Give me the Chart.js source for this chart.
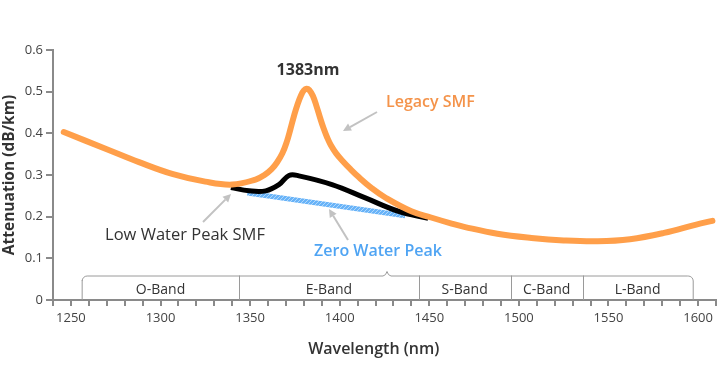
<!DOCTYPE html>
<html><head><meta charset="utf-8">
<script src="https://cdn.jsdelivr.net/npm/chart.js@4/dist/chart.umd.min.js"></script>
<style>html,body{margin:0;padding:0;background:#fff}#wrap{width:720px;height:380px}</style>
</head><body><div id="wrap"><canvas id="c" width="720" height="380"></canvas></div>
<script>
// ---- data ----
const legacyNm  = [1246, 1270, 1288, 1307, 1325, 1340, 1353, 1358, 1362, 1365, 1368, 1370.5, 1372.5, 1374.5, 1376.5, 1378.5, 1380, 1381.5, 1383, 1385, 1387, 1389, 1391, 1393, 1395, 1398, 1402, 1406, 1410.6, 1418, 1425.4, 1440, 1451, 1462, 1470, 1488, 1507, 1525, 1544, 1562, 1581, 1599, 1608];
const legacyAtt = [0.403, 0.362, 0.331, 0.302, 0.284, 0.277, 0.289, 0.300, 0.314, 0.330, 0.352, 0.380, 0.410, 0.442, 0.470, 0.492, 0.503, 0.507, 0.504, 0.490, 0.466, 0.438, 0.412, 0.390, 0.372, 0.352, 0.332, 0.314, 0.295, 0.268, 0.246, 0.213, 0.198, 0.184, 0.175, 0.159, 0.149, 0.143, 0.141, 0.146, 0.161, 0.181, 0.19];
const lowWpNm   = [1339.3, 1349.4, 1358.7, 1366.1, 1371.7, 1377.2, 1395.7, 1414.3, 1432.8, 1449.4];
const lowWpAtt  = [0.270, 0.262, 0.262, 0.277, 0.299, 0.298, 0.277, 0.245, 0.213, 0.196];
const zeroWpNm  = [1348.5, 1436.5];
const zeroWpAtt = [0.257, 0.202];
const bandNames = ['O-Band', 'E-Band', 'S-Band', 'C-Band', 'L-Band'];
const bandEdges = [1256, 1344, 1444, 1495.5, 1535.5, 1597];
const xLabelStep = 50;
const peakLabel = '1383nm';

const pts = (xs, ys) => xs.map((x, i) => ({x, y: ys[i]}));

// striped pattern for zero water peak line
function stripePattern() {
  const p = document.createElement('canvas');
  p.width = 4; p.height = 4;
  const g = p.getContext('2d');
  g.fillStyle = '#68b3f8'; g.fillRect(0, 0, 4, 4);
  g.strokeStyle = '#b0d8fc'; g.lineWidth = 1;
  g.beginPath(); g.moveTo(0, 4); g.lineTo(4, 0); g.stroke();
  return g.createPattern(p, 'repeat');
}

function arrow(ctx, x1, y1, x2, y2) {
  const a = Math.atan2(y2 - y1, x2 - x1), L = 8, W = 4;
  const bx = x2 - L * Math.cos(a), by = y2 - L * Math.sin(a);
  ctx.beginPath(); ctx.moveTo(x1, y1); ctx.lineTo(bx, by); ctx.stroke();
  ctx.beginPath();
  ctx.moveTo(x2, y2);
  ctx.lineTo(bx + W * Math.sin(a), by - W * Math.cos(a));
  ctx.lineTo(bx - W * Math.sin(a), by + W * Math.cos(a));
  ctx.closePath(); ctx.fill();
}

const overlay = {
  id: 'overlay',
  afterDraw(chart) {
    const ctx = chart.ctx, xs = chart.scales.x, ys = chart.scales.y;
    const X = v => xs.getPixelForValue(v), Y = v => ys.getPixelForValue(v);
    ctx.save();
    // band bracket
    const yb = Y(0), yt = Y(0) - 24.5, r = 5;
    const xl = X(bandEdges[0]), xr = X(bandEdges[bandEdges.length - 1]), xn = X(1426.4);
    ctx.strokeStyle = '#9a9a9a'; ctx.lineWidth = 1;
    ctx.beginPath();
    ctx.moveTo(xl + 0.5, yb);
    ctx.lineTo(xl + 0.5, yt + r);
    ctx.arcTo(xl + 0.5, yt + 0.5, xl + r, yt + 0.5, r);
    ctx.lineTo(xn - 4, yt + 0.5);
    ctx.quadraticCurveTo(xn - 1, yt, xn, yt - 4);
    ctx.quadraticCurveTo(xn + 1, yt, xn + 4, yt + 0.5);
    ctx.lineTo(xr - r, yt + 0.5);
    ctx.arcTo(xr + 0.5, yt + 0.5, xr + 0.5, yt + r, r);
    ctx.lineTo(xr + 0.5, yb);
    ctx.stroke();
    for (let i = 1; i < bandEdges.length - 1; i++) {
      const x = Math.round(X(bandEdges[i])) + 0.5;
      ctx.beginPath(); ctx.moveTo(x, yt); ctx.lineTo(x, yb); ctx.stroke();
    }
    ctx.fillStyle = '#333'; ctx.font = '14px "Open Sans"';
    ctx.textAlign = 'center'; ctx.textBaseline = 'middle';
    for (let i = 0; i < bandNames.length; i++) {
      ctx.fillText(bandNames[i], (X(bandEdges[i]) + X(bandEdges[i + 1])) / 2, yb - 10);
    }
    // arrows
    ctx.strokeStyle = '#c2c2c2'; ctx.fillStyle = '#c2c2c2'; ctx.lineWidth = 2;
    arrow(ctx, 377, 112, 343, 131);
    arrow(ctx, 203, 222, 231, 194);
    arrow(ctx, 348, 240, 329, 209);
    // labels
    ctx.textAlign = 'center'; ctx.textBaseline = 'middle';
    ctx.fillStyle = '#333'; ctx.font = 'bold 16px "Open Sans"';
    ctx.fillText(peakLabel, 308, 70);
    ctx.fillStyle = '#f4934a'; ctx.font = '600 16px "Open Sans"';
    ctx.textAlign = 'left';
    ctx.fillText('Legacy SMF', 386, 102);
    ctx.fillStyle = '#333'; ctx.font = '16.5px "Open Sans"';
    ctx.textAlign = 'center';
    ctx.fillText('Low Water Peak SMF', 185, 235);
    ctx.fillStyle = '#4fa4f3'; ctx.font = '600 16px "Open Sans"';
    ctx.fillText('Zero Water Peak', 378, 251);
    // x axis title
    ctx.fillStyle = '#333'; ctx.font = '600 16px "Open Sans"';
    ctx.fillText('Wavelength (nm)', X(1419), 349);
    ctx.restore();
  }
};

new Chart(document.getElementById('c'), {
  type: 'line',
  data: {
    datasets: [
      {label: 'Legacy SMF', data: pts(legacyNm, legacyAtt), borderColor: '#ff9f4a', borderWidth: 6,
       pointRadius: 0, tension: 0.4, borderCapStyle: 'round', fill: false},
      {label: 'Low Water Peak SMF', data: pts(lowWpNm, lowWpAtt), borderColor: '#000', borderWidth: 5,
       pointRadius: 0, tension: 0.4, fill: false},
      {label: 'Zero Water Peak', data: pts(zeroWpNm, zeroWpAtt), borderColor: stripePattern(), borderWidth: 5,
       pointRadius: 0, fill: false}
    ]
  },
  options: {
    responsive: false, animation: false, devicePixelRatio: 1,
    layout: {padding: {top: 50, right: 1, left: 0, bottom: 0}},
    plugins: {legend: {display: false}, tooltip: {enabled: false}},
    scales: {
      x: {
        type: 'linear', min: 1240, max: 1610,
        afterFit: s => { s.height = 80; },
        ticks: {stepSize: 10, autoSkip: false, maxRotation: 0, padding: 4, color: '#444',
                font: {family: 'Open Sans', size: 13},
                callback: v => (Math.round(v) % xLabelStep === 0 ? String(Math.round(v)) : '')},
        grid: {drawOnChartArea: false, drawTicks: true, tickLength: 6, color: '#8a8a8a', lineWidth: 2},
        border: {color: '#8a8a8a', width: 2}
      },
      y: {
        min: 0, max: 0.6,
        afterFit: s => { s.width = 53; },
        ticks: {stepSize: 0.1, padding: 3, color: '#444', font: {family: 'Open Sans', size: 13},
                callback: v => String(+v.toFixed(1))},
        grid: {drawOnChartArea: false, drawTicks: true, tickLength: 7, color: '#8a8a8a', lineWidth: 2},
        border: {color: '#8a8a8a', width: 2},
        title: {display: true, text: 'Attenuation (dB/km)', color: '#333',
                font: {family: 'Open Sans', size: 15.5, weight: 'bold'}, padding: {top: 0, bottom: 0}}
      }
    }
  },
  plugins: [overlay]
});
</script></body></html>
